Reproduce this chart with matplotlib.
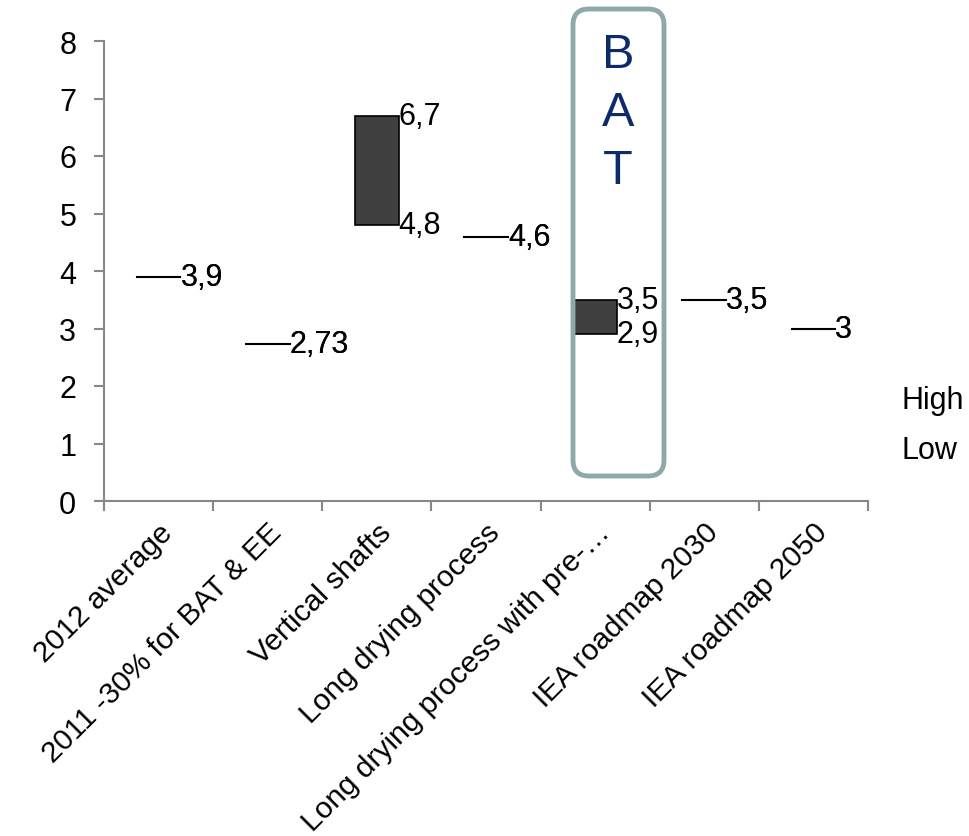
import matplotlib
matplotlib.use("Agg")
import matplotlib.pyplot as plt
import matplotlib.transforms as mtransforms
from matplotlib.patches import FancyBboxPatch, Rectangle
from matplotlib.lines import Line2D

plt.rcParams['font.family'] = ['Liberation Sans', 'DejaVu Sans']

categories = ["2012 average", "2011 -30% for BAT & EE", "Vertical shafts",
              "Long drying process", "Long drying process with pre-\u2026",
              "IEA roadmap 2030", "IEA roadmap 2050"]
high = [3.9, 2.73, 6.7, 4.6, 3.5, 3.5, 3]
low = [3.9, 2.73, 4.8, 4.6, 2.9, 3.5, 3]
y_ticks = [0, 1, 2, 3, 4, 5, 6, 7, 8]

FS = 22
FS_CAT = 21.5


def fmt(v):
    return f"{v:g}".replace(".", ",")


W, H = 969, 837
fig = plt.figure(figsize=(W / 100, H / 100), dpi=100)
ax = fig.add_axes([104 / W, 1 - 502 / H, (868 - 104) / W, (502 - 42) / H])

bar_w = 0.4
for i, (hi, lo) in enumerate(zip(high, low)):
    x0, x1 = i - bar_w / 2, i + bar_w / 2
    if hi != lo:
        ax.add_patch(Rectangle((x0, lo), bar_w, hi - lo, facecolor="#404040",
                               edgecolor="black", linewidth=1.2, zorder=3))
    else:
        ax.plot([x0, x1], [hi, hi], color="black", linewidth=1.5, zorder=3)
    ax.text(x1, hi, fmt(hi), ha="left", va="center", fontsize=FS, zorder=4)
    ax.text(x1, lo, fmt(lo), ha="left", va="center", fontsize=FS, zorder=4)

ax.set_xlim(-0.5, len(categories) - 0.5)
ax.set_ylim(0, 8)
ax.set_yticks(y_ticks)
ax.set_xticks(range(len(categories)))
ax.set_xticklabels(categories, rotation=45, ha="right", va="top",
                   rotation_mode="anchor", fontsize=FS_CAT)
shift = mtransforms.ScaledTranslation(6 / 100, 0, fig.dpi_scale_trans)
for lbl in ax.get_xticklabels():
    lbl.set_transform(lbl.get_transform() + shift)
ax.set_xticks([i - 0.5 for i in range(len(categories) + 1)], minor=True)
ax.tick_params(axis="x", which="major", length=0, pad=12)
ax.tick_params(axis="x", which="minor", length=7, width=1.5, color="#888888")
ax.tick_params(axis="y", length=7, width=1.5, color="#888888", labelsize=FS, pad=13)
for s in ("top", "right"):
    ax.spines[s].set_visible(False)
for s in ("left", "bottom"):
    ax.spines[s].set_color("#888888")
    ax.spines[s].set_linewidth(1.5)

# BAT highlight frame
bx0, by0, bx1, by1 = 573, 10, 664, 477
box = FancyBboxPatch((bx0 / W, 1 - by1 / H), (bx1 - bx0) / W, (by1 - by0) / H,
                     boxstyle=f"round,pad=0,rounding_size={16 / W}",
                     mutation_aspect=W / H, transform=fig.transFigure,
                     facecolor="none", edgecolor="#8FA8AB", linewidth=3.5,
                     zorder=5)
fig.add_artist(box)
for letter, yc in zip("BAT", (55, 114, 171)):
    fig.text(618 / W, 1 - yc / H, letter, ha="center", va="center",
             fontsize=35, color="#0D2B6B")

handles = [Line2D([], [], linestyle="none") for _ in range(2)]
fig.legend(handles, ["High", "Low"], loc="center left",
           bbox_to_anchor=(901 / W, 1 - 426 / H), frameon=False,
           borderpad=0, borderaxespad=0, handlelength=0, handletextpad=0,
           fontsize=FS, labelspacing=0.65)

fig.savefig("out.png", dpi=100)
